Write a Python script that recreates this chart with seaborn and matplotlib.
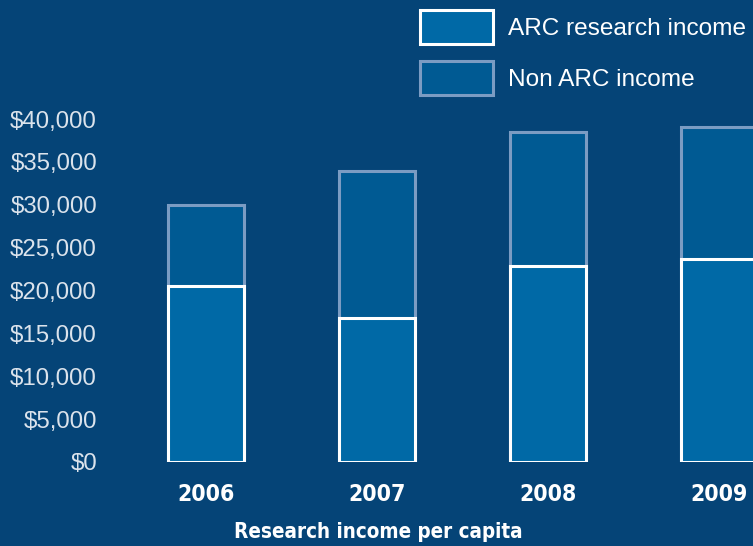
import matplotlib
matplotlib.use("Agg")
import matplotlib.pyplot as plt
import matplotlib.patches as mpatches
from matplotlib.ticker import FuncFormatter
import seaborn as sns
import pandas as pd

# data
years = ["2006", "2007", "2008", "2009"]
arc_income = [20500, 16800, 22900, 23700]
total_income = [30000, 33900, 38500, 39100]
yticks = [0, 5000, 10000, 15000, 20000, 25000, 30000, 35000, 40000]

bg = "#054477"
arc_fill = "#0069a6"
non_fill = "#005a93"
non_edge = "#7b9cc3"
tick_col = "#dbe3ec"

sns.set_theme(style="white")
plt.rcParams["font.family"] = ["Liberation Sans", "DejaVu Sans"]
bold_fam = ["DejaVu Sans", "Liberation Sans"]

df = pd.DataFrame({"year": years, "arc": arc_income, "total": total_income})

fig = plt.figure(figsize=(7.53, 5.46), dpi=100, facecolor=bg)
ax = fig.add_axes([120 / 753, (546 - 462) / 546, 633 / 753, 362 / 546])
ax.set_facecolor(bg)

bw = 76 / 171
sns.barplot(data=df, x="year", y="total", order=years, color=non_fill,
            saturation=1, width=bw, edgecolor=non_edge, linewidth=2.2,
            errorbar=None, ax=ax)
sns.barplot(data=df, x="year", y="arc", order=years, color=arc_fill,
            saturation=1, width=bw, edgecolor="white", linewidth=2.2,
            errorbar=None, ax=ax)

ax.set_xlim(-0.503, -0.503 + 633 / 171)
ax.set_ylim(0, 42216)
ax.set_yticks(yticks)
ax.yaxis.set_major_formatter(FuncFormatter(lambda v, p: f"${v:,.0f}"))
for s in ax.spines.values():
    s.set_visible(False)
ax.tick_params(axis="y", length=0, pad=16.5, labelsize=17.3, labelcolor=tick_col)
ax.tick_params(axis="x", length=0, pad=15, labelsize=16.5, labelcolor="white")
for lab in ax.get_xticklabels():
    lab.set_fontweight("bold")
    lab.set_family(bold_fam)
    lab.set_fontstretch("condensed")

ax.set_ylabel("")
ax.set_xlabel("")
fig.text(0.502, 1 - 532 / 546, "Research income per capita", color="white",
         fontsize=14.8, fontweight="bold", fontstretch="condensed",
         family=bold_fam, ha="center", va="center")

handles = [
    mpatches.Patch(facecolor=arc_fill, edgecolor="white", linewidth=2.2,
                   label="ARC research income"),
    mpatches.Patch(facecolor=non_fill, edgecolor=non_edge, linewidth=2.2,
                   label="Non ARC income"),
]
leg = fig.legend(handles=handles, loc="upper left",
                 bbox_to_anchor=(420 / 753, 1 - 10 / 546), frameon=False,
                 fontsize=17.6, handlelength=3.0, handleheight=1.75,
                 labelspacing=0.72, handletextpad=0.62, borderpad=0,
                 borderaxespad=0)
for t in leg.get_texts():
    t.set_color("white")

fig.savefig("out.png", dpi=100, facecolor=bg)
